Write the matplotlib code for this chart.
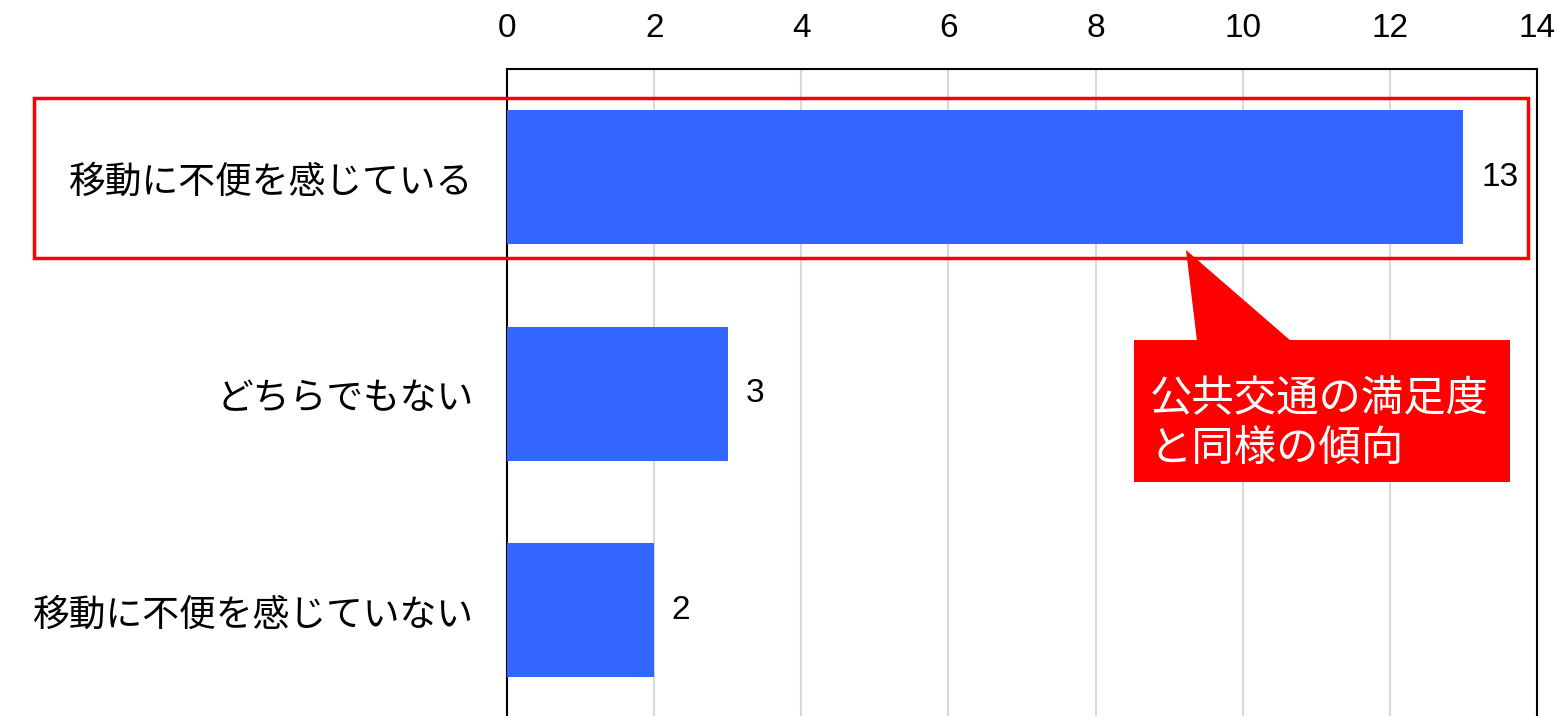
import matplotlib
matplotlib.use("Agg")
import matplotlib.pyplot as plt
from matplotlib.patches import Rectangle, Polygon

plt.rcParams["font.family"] = ["Noto Sans CJK JP", "DejaVu Sans"]

categories = ["移動に不便を感じている", "どちらでもない", "移動に不便を感じていない"]
counts = [13, 3, 2]
x_ticks = [0, 2, 4, 6, 8, 10, 12, 14]
callout_text = "公共交通の満足度\nと同様の傾向"

W, H = 1558, 716
BAR_COLOR = "#3366ff"
RED = "#ff0000"
NUM_FONT = ["Liberation Sans Narrow", "Liberation Sans", "DejaVu Sans"]


def px(x, y):
    # pixel (from top-left) -> figure fraction
    return x / W, 1 - y / H


fig = plt.figure(figsize=(W / 100, H / 100), dpi=100)
ax = fig.add_axes([507 / W, -2.5 / H, 1030 / W, 649.5 / H])

ypos = list(range(len(categories)))
ax.barh(ypos, counts, height=0.62, color=BAR_COLOR, zorder=3)
ax.set_ylim(len(categories) - 0.5, -0.5)
ax.set_xlim(0, 14)
ax.set_xticks(x_ticks)
ax.set_xticklabels([str(t) for t in x_ticks], family=NUM_FONT, fontsize=24)
ax.xaxis.tick_top()
ax.tick_params(axis="x", length=0, pad=18)
ax.tick_params(axis="y", length=0, pad=24, labelsize=26.5)
ax.set_yticks(ypos)
ax.set_yticklabels(categories)
ax.grid(axis="x", color="#d9d9d9", linewidth=1.5, zorder=0)
for side in ["top", "left", "right"]:
    ax.spines[side].set_color("black")
    ax.spines[side].set_linewidth(1.5)
ax.spines["bottom"].set_visible(False)

for y, v in zip(ypos, counts):
    ax.text(v + 0.24, y, str(v), va="center", ha="left", fontsize=24,
            family=NUM_FONT, zorder=4)

# highlight frame around first row
x0, y0 = px(34, 258)
x1, y1 = px(1528, 98)
fig.patches.append(Rectangle((x0, y0), x1 - x0, y1 - y0, transform=fig.transFigure,
                             fill=False, edgecolor=RED, linewidth=2.5, zorder=5))

# callout box with pointer
bx0, by0 = px(1134, 482)
bx1, by1 = px(1510, 340)
fig.patches.append(Rectangle((bx0, by0), bx1 - bx0, by1 - by0, transform=fig.transFigure,
                             facecolor=RED, edgecolor="none", zorder=5))
fig.patches.append(Polygon([px(1186, 250), px(1197, 341), px(1291, 341)],
                           closed=True, transform=fig.transFigure,
                           facecolor=RED, edgecolor="none", zorder=5))
tx, ty = px(1150, 425)
fig.text(tx, ty, callout_text, color="white", fontsize=30.5, va="center", ha="left",
         linespacing=1.2, zorder=6)

fig.savefig("out.png", dpi=100)
